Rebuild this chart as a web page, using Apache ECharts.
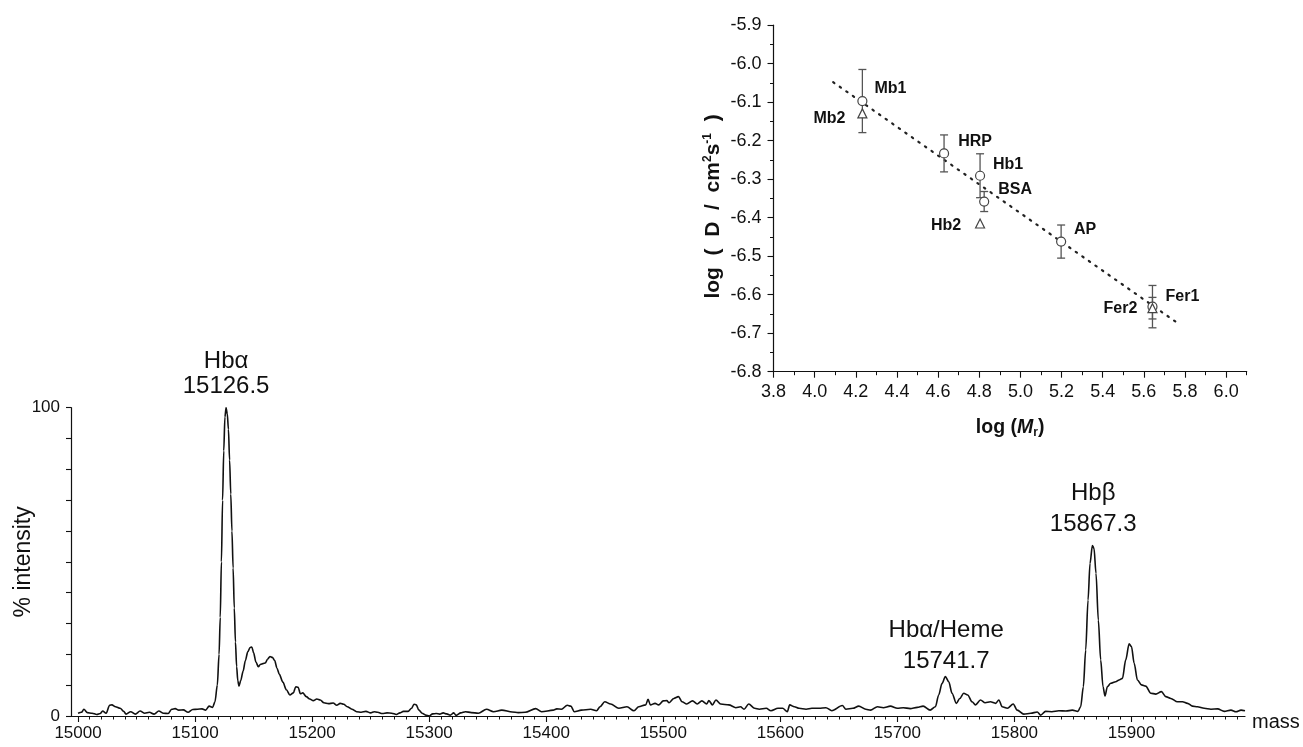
<!DOCTYPE html>
<html>
<head>
<meta charset="utf-8">
<script src="https://cdn.jsdelivr.net/npm/echarts@6/dist/echarts.min.js"></script>
<style>
  html, body { margin: 0; padding: 0; background: #fff; }
  #chart { width: 1303px; height: 747px; }
</style>
</head>
<body>
<div id="chart"></div>
<script>
// ---- main spectrum: [mass, % intensity] ----
const spectrum = [
  [15000, 0.9], [15003, 1.2], [15005, 2.2], [15008, 1.1], [15012, 0.9], [15016, 0.5],
  [15019, 0.8], [15021, 1.6], [15024, 0.9], [15027, 3.5], [15029, 3.6], [15032, 3.0],
  [15036, 2.5], [15039, 1.5], [15041, 0.6], [15045, 1.4], [15049, 0.6], [15053, 1.6],
  [15057, 0.9], [15061, 1.2], [15065, 0.6], [15069, 1.6], [15073, 0.9], [15077, 0.8],
  [15080, 2.2], [15083, 2.4], [15086, 1.9], [15090, 2.0], [15094, 1.2], [15098, 2.1],
  [15102, 2.2], [15106, 2.3], [15109, 1.9], [15112, 3.2], [15115, 2.8], [15117, 4.6],
  [15119, 10], [15120.5, 20], [15121.5, 32], [15122.5, 50], [15123.5, 70], [15124.5, 86],
  [15125.5, 97], [15126.5, 100], [15127.5, 98], [15128.5, 93], [15129.5, 83], [15130.5, 72],
  [15131.5, 60], [15132.5, 48], [15133.5, 35], [15134.5, 24], [15135.5, 16], [15136.5, 11.5],
  [15137.5, 9.7], [15139, 11.5], [15141, 14.5], [15143, 18], [15145, 20.8], [15147, 22.2],
  [15148.5, 22.4], [15150, 20.5], [15152, 17.5], [15154, 16], [15156, 16.8], [15158, 17],
  [15160, 17.2], [15162, 18.5], [15164, 19.3], [15166, 19], [15168, 18], [15170, 15.5],
  [15172, 13.5], [15175, 11], [15178, 8.5], [15181, 6.8], [15184, 7.5], [15186, 9.5],
  [15188, 9.3], [15190, 7.2], [15192, 7.5], [15195, 6.3], [15198, 5.5], [15201, 5.0],
  [15204, 5.5], [15207, 5.2], [15210, 4.3], [15214, 4.0], [15218, 4.2], [15221, 3.5],
  [15224, 4.1], [15227, 3.8], [15230, 3.0], [15234, 2.2], [15238, 1.4], [15242, 1.2],
  [15246, 1.5], [15250, 1.0], [15253, 1.4], [15256, 1.2], [15260, 0.8], [15264, 1.0],
  [15268, 0.9], [15272, 0.5], [15275, 1.0], [15278, 1.5], [15282, 1.5], [15285, 2.5],
  [15287, 3.8], [15289, 3.6], [15291, 2.0], [15294, 0.9], [15297, 0.3], [15300, 0],
  [15303, 0.7], [15306, 0.8], [15309, 0.6], [15312, 1.0], [15315, 0.7], [15318, 0.3],
  [15321, 1.0], [15323, 0.2], [15327, 1.0], [15331, 1.4], [15336, 1.1], [15342, 0.9],
  [15349, 2.2], [15355, 1.4], [15362, 1.9], [15371, 1.3], [15376, 1.1], [15382, 1.2],
  [15391, 2.4], [15396, 1.4], [15406, 1.9], [15409, 2.3], [15413, 2.2], [15418, 3.5],
  [15421, 3.2], [15424, 1.4], [15430, 1.9], [15438, 2.2], [15443, 1.7], [15446, 3.0],
  [15450, 4.6], [15455, 3.9], [15462, 2.5], [15469, 3.0], [15475, 1.7], [15479, 3.0],
  [15485, 3.6], [15487, 5.4], [15489, 3.6], [15493, 4.1], [15496, 3.6], [15500, 4.9],
  [15503, 5.0], [15505, 4.3], [15509, 5.7], [15513, 6.3], [15516, 4.6], [15520, 3.9],
  [15525, 4.9], [15529, 3.9], [15533, 4.9], [15537, 3.9], [15539, 5.0], [15542, 3.6],
  [15545, 5.2], [15549, 3.9], [15556, 3.6], [15562, 2.7], [15566, 3.0], [15569, 2.2],
  [15573, 3.9], [15578, 2.5], [15582, 2.2], [15588, 2.5], [15592, 1.7], [15598, 2.5],
  [15602, 2.5], [15606, 1.4], [15608, 3.6], [15612, 3.0], [15616, 2.5], [15622, 2.2],
  [15627, 2.5], [15633, 2.5], [15639, 2.7], [15644, 1.7], [15653, 3.4], [15656, 2.2],
  [15662, 2.5], [15667, 3.2], [15673, 2.2], [15677, 1.9], [15683, 3.0], [15688, 2.7],
  [15694, 3.2], [15700, 2.5], [15705, 2.7], [15711, 2.4], [15717, 2.8], [15722, 3.2],
  [15728, 1.9], [15732.5, 3.0], [15735.3, 6.8], [15738.2, 10.6], [15741, 12.8], [15743.9, 11.1],
  [15746.7, 7.4], [15750.4, 4.1], [15753.3, 5.7], [15756.7, 7.4], [15760.1, 6.8], [15763.8, 4.6],
  [15766.7, 3.6], [15771, 5.2], [15775, 4.3], [15779.5, 4.6], [15784, 4.1], [15786.7, 5.2],
  [15789.5, 3.0], [15794, 2.5], [15799, 3.9], [15802.4, 1.9], [15808, 0.6], [15814, 0.9],
  [15819.5, 1.3], [15822.4, 0.3], [15826.6, 1.5], [15832, 1.4], [15838, 1.7], [15844, 1.6],
  [15849.5, 1.9], [15854.3, 1.5], [15856.6, 3.0], [15858.9, 9.5], [15860.9, 21.4], [15862.9, 37.6],
  [15864.6, 49.5], [15866.6, 55.3], [15868, 54.4], [15869.7, 46.3], [15871.7, 31.1], [15873.7, 18.2],
  [15875.7, 9.5], [15877.4, 6.5], [15879.4, 9.5], [15882.3, 10.6], [15886.5, 11.1], [15889.4, 11.7],
  [15892.3, 12.2], [15895.1, 18.2], [15898, 23.4], [15900, 22.5], [15902.3, 17.1], [15905.1, 11.7],
  [15908.5, 10.1], [15912.2, 9.7], [15916.5, 7.4], [15920.8, 7.1], [15925.6, 7.9], [15929.3, 6.3],
  [15933.6, 5.7], [15939.3, 4.6], [15943.6, 4.6], [15947.9, 4.1], [15952.1, 3.2], [15956.4, 3.0],
  [15962.1, 2.5], [15967.9, 2.2], [15973.6, 2.3], [15979.3, 1.5], [15985, 1.9], [15989.3, 1.4],
  [15993.6, 1.9], [15997, 1.7]
];

// annotated peaks
const peakNames = ['Hbα', 'Hbα/Heme', 'Hbβ'];
const peakMass = [15126.5, 15741.7, 15867.3];
const peakHeight = [100, 12.8, 55.3];

// main axes tick labels
const massLabels = [15000, 15100, 15200, 15300, 15400, 15500, 15600, 15700, 15800, 15900];
const intensityLabels = [0, 100];

// ---- inset: diffusion coefficient vs molecular mass ----
const set1Names = ['Mb1', 'HRP', 'Hb1', 'BSA', 'AP', 'Fer1'];
const set1LogM = [4.232, 4.629, 4.804, 4.824, 5.198, 5.642];
const set1LogD = [-6.097, -6.233, -6.291, -6.358, -6.462, -6.631];
const set1Err = [0.082, 0.048, 0.057, 0.026, 0.043, 0.055];

const set2Names = ['Mb2', 'Hb2', 'Fer2'];
const set2LogM = [4.232, 4.804, 5.642];
const set2LogD = [-6.129, -6.415, -6.635];
const set2Err = [0, 0, 0.028];

const fitLogM = [4.09, 5.765];
const fitLogD = [-6.048, -6.674];

const logMLabels = [3.8, 4.0, 4.2, 4.4, 4.6, 4.8, 5.0, 5.2, 5.4, 5.6, 5.8, 6.0];
const logMMinor = [3.9, 4.1, 4.3, 4.5, 4.7, 4.9, 5.1, 5.3, 5.5, 5.7, 5.9, 6.1];

// label placement (pixels relative to point)
const pointLabelOffset = {
  Mb1: [28, -12], Mb2: [-33, 5], HRP: [31, -12], Hb1: [28, -11], BSA: [31, -12],
  Hb2: [-34, 2], AP: [24, -12], Fer1: [30, -10], Fer2: [-32, 0]
};
const peakLabelStyle = [
  { lineHeight: 25, distance: 8 },
  { lineHeight: 37, distance: 2 },
  { lineHeight: 37, distance: 8 }
];

const FONT = '"Liberation Sans", Arial, Helvetica, sans-serif';
const INK = '#111';

const massMinor = [];
for (let m = 15000; m < 16000; m += 10) massMinor.push(m);

const chart = echarts.init(document.getElementById('chart'));

const errData = [];
set1Names.forEach((n, i) => {
  if (set1Err[i] > 0) errData.push([set1LogM[i], set1LogD[i] - set1Err[i], set1LogD[i] + set1Err[i]]);
});
set2Names.forEach((n, i) => {
  if (set2Err[i] > 0) errData.push([set2LogM[i], set2LogD[i] - set2Err[i], set2LogD[i] + set2Err[i]]);
});

const pointLabel = {
  show: true,
  position: 'inside',
  formatter: '{b}',
  fontFamily: FONT,
  fontWeight: 'bold',
  fontSize: 16,
  color: INK
};

function points(names, xs, ys) {
  return names.map((n, i) => ({
    name: n,
    value: [xs[i], ys[i]],
    label: { offset: pointLabelOffset[n] }
  }));
}

const option = {
  backgroundColor: '#fff',
  animation: false,
  textStyle: { fontFamily: FONT },
  grid: [
    { left: 71, top: 407.7, width: 1174, height: 308.3, outerBoundsMode: 'none' },
    { left: 773.5, top: 25.2, width: 473.2, height: 346.5, outerBoundsMode: 'none' }
  ],
  xAxis: [
    {
      type: 'value', gridIndex: 0, position: 'bottom',
      min: 14994, max: 15997,
      name: 'mass', nameLocation: 'end', nameGap: 7, nameMoveOverlap: false,
      nameTextStyle: { fontSize: 20, color: INK, fontFamily: FONT, verticalAlign: 'top', lineHeight: 12 },
      axisLine: { lineStyle: { color: INK, width: 1.2 } },
      axisTick: { customValues: massLabels, length: 6, lineStyle: { color: INK, width: 1.1 } },
      axisLabel: {
        customValues: massLabels, fontSize: 17, color: INK, margin: 9, fontFamily: FONT,
        formatter: v => String(v)
      },
      splitLine: { show: false }
    },
    {
      type: 'value', gridIndex: 0, position: 'bottom',
      min: 14994, max: 15997,
      axisLine: { show: false },
      axisTick: { customValues: massMinor, length: 3.5, lineStyle: { color: INK, width: 1 } },
      axisLabel: { show: false },
      splitLine: { show: false }
    },
    {
      type: 'value', gridIndex: 1, position: 'bottom',
      min: 3.8, max: 6.1,
      name: 'log ({i|M}{sub|r})', nameLocation: 'middle', nameGap: 45, nameMoveOverlap: false,
      nameTextStyle: {
        fontSize: 19.5, fontWeight: 'bold', color: INK, fontFamily: FONT, lineHeight: 22,
        rich: {
          i: { fontSize: 19.5, fontWeight: 'bold', fontStyle: 'italic', color: INK, fontFamily: FONT, lineHeight: 22 },
          sub: { fontSize: 12, fontWeight: 'bold', color: INK, fontFamily: FONT, verticalAlign: 'bottom', lineHeight: 13 }
        }
      },
      axisLine: { lineStyle: { color: INK, width: 1.2 } },
      axisTick: { customValues: logMLabels, length: 6, lineStyle: { color: INK, width: 1.1 } },
      axisLabel: {
        customValues: logMLabels, fontSize: 18, color: INK, margin: 11, fontFamily: FONT,
        formatter: v => v.toFixed(1)
      },
      splitLine: { show: false }
    },
    {
      type: 'value', gridIndex: 1, position: 'bottom',
      min: 3.8, max: 6.1,
      axisLine: { show: false },
      axisTick: { customValues: logMMinor, length: 3.5, lineStyle: { color: INK, width: 1 } },
      axisLabel: { show: false },
      splitLine: { show: false }
    }
  ],
  yAxis: [
    {
      type: 'value', gridIndex: 0,
      min: 0, max: 100, interval: 10,
      name: '% intensity', nameLocation: 'middle', nameGap: 36, nameMoveOverlap: false,
      nameTextStyle: { fontSize: 23, color: INK, fontFamily: FONT },
      axisLine: { show: true, lineStyle: { color: INK, width: 1.2 } },
      axisTick: { show: true, length: 5, lineStyle: { color: INK, width: 1.1 } },
      axisLabel: { customValues: intensityLabels, fontSize: 17, color: INK, margin: 11, fontFamily: FONT },
      splitLine: { show: false }
    },
    {
      type: 'value', gridIndex: 1,
      min: -6.8, max: -5.9, interval: 0.1,
      name: 'log  (  D  /  cm{sup|2}s{sup|-1}  )', nameLocation: 'middle', nameGap: 49, nameMoveOverlap: false,
      nameTextStyle: {
        fontSize: 21, fontWeight: 'bold', color: INK, fontFamily: FONT, lineHeight: 23,
        padding: [0, 16, 0, 0],
        rich: {
          sup: { fontSize: 12, fontWeight: 'bold', color: INK, fontFamily: FONT, verticalAlign: 'top', lineHeight: 13 }
        }
      },
      axisLine: { show: true, lineStyle: { color: INK, width: 1.2 } },
      axisTick: { show: true, length: 6, lineStyle: { color: INK, width: 1.1 } },
      minorTick: { show: true, splitNumber: 2, length: 3.5, lineStyle: { color: INK, width: 1 } },
      axisLabel: { fontSize: 18, color: INK, margin: 12, fontFamily: FONT, formatter: v => v.toFixed(1) },
      splitLine: { show: false }
    }
  ],
  series: [
    {
      name: 'spectrum', type: 'line', xAxisIndex: 0, yAxisIndex: 0,
      data: spectrum, showSymbol: false, smooth: 0.3, smoothMonotone: 'x',
      lineStyle: { color: '#111', width: 1.6 },
      z: 2
    },
    {
      name: 'peaks', type: 'scatter', xAxisIndex: 0, yAxisIndex: 0,
      symbolSize: 0,
      itemStyle: { opacity: 1 },
      data: peakNames.map((n, i) => ({
        name: n,
        value: [peakMass[i], peakHeight[i]],
        label: {
          distance: peakLabelStyle[i].distance,
          rich: {
            nm: { fontSize: 24, color: INK, fontFamily: FONT, lineHeight: peakLabelStyle[i].lineHeight },
            ms: { fontSize: 24, color: INK, fontFamily: FONT, lineHeight: 26 }
          }
        }
      })),
      label: {
        show: true, position: 'top', align: 'center', color: INK,
        formatter: p => '{nm|' + p.name + '}\n{ms|' + p.value[0].toFixed(1) + '}'
      },
      z: 3
    },
    {
      name: 'error', type: 'custom', xAxisIndex: 2, yAxisIndex: 1,
      data: errData,
      encode: { x: 0, y: [1, 2] },
      renderItem: (params, api) => {
        const x = api.value(0);
        const lo = api.coord([x, api.value(1)]);
        const hi = api.coord([x, api.value(2)]);
        const w = 4;
        const st = { stroke: '#555', lineWidth: 1.3 };
        return {
          type: 'group',
          children: [
            { type: 'line', shape: { x1: hi[0], y1: hi[1], x2: lo[0], y2: lo[1] }, style: st },
            { type: 'line', shape: { x1: hi[0] - w, y1: hi[1], x2: hi[0] + w, y2: hi[1] }, style: st },
            { type: 'line', shape: { x1: lo[0] - w, y1: lo[1], x2: lo[0] + w, y2: lo[1] }, style: st }
          ]
        };
      },
      z: 3
    },
    {
      name: 'fit', type: 'line', xAxisIndex: 2, yAxisIndex: 1,
      data: fitLogM.map((x, i) => [x, fitLogD[i]]),
      showSymbol: false,
      lineStyle: { color: '#222', width: 2.2, type: [1.5, 6.5], cap: 'round' },
      z: 2
    },
    {
      name: 'set1', type: 'scatter', xAxisIndex: 2, yAxisIndex: 1,
      symbol: 'circle', symbolSize: 9,
      itemStyle: { color: '#fff', borderColor: '#444', borderWidth: 1.2, opacity: 1 },
      data: points(set1Names, set1LogM, set1LogD),
      label: pointLabel,
      z: 5
    },
    {
      name: 'set2', type: 'scatter', xAxisIndex: 2, yAxisIndex: 1,
      symbol: 'triangle', symbolSize: 9,
      itemStyle: { color: '#fff', borderColor: '#444', borderWidth: 1.2, opacity: 1 },
      data: points(set2Names, set2LogM, set2LogD),
      label: pointLabel,
      z: 6
    }
  ]
};

chart.setOption(option);
</script>
</body>
</html>
